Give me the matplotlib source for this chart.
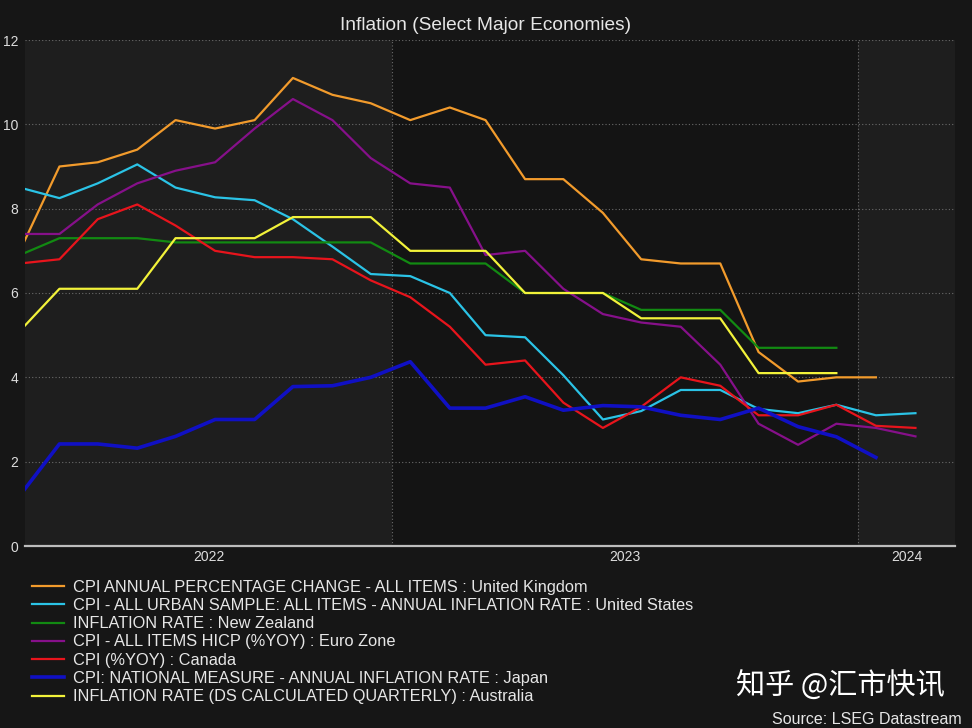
import matplotlib.pyplot as plt
import numpy as np
import pandas as pd

# --- Data (monthly, Mar 2022 onwards, plotted mid-month) ---
months = pd.date_range('2022-03-01', periods=24, freq='MS') + pd.Timedelta(days=14)

uk = [7.0, 9.0, 9.1, 9.4, 10.1, 9.9, 10.1, 11.1, 10.7, 10.5,
      10.1, 10.4, 10.1, 8.7, 8.7, 7.9, 6.8, 6.7, 6.7, 4.6, 3.9, 4.0, 4.0]
us = [8.5, 8.25, 8.6, 9.05, 8.5, 8.27, 8.2, 7.75, 7.1, 6.45,
      6.4, 6.0, 5.0, 4.95, 4.05, 3.0, 3.2, 3.7, 3.7, 3.25, 3.15, 3.35, 3.1, 3.15]
nz = [6.9, 7.3, 7.3, 7.3, 7.2, 7.2, 7.2, 7.2, 7.2, 7.2,
      6.7, 6.7, 6.7, 6.0, 6.0, 6.0, 5.6, 5.6, 5.6, 4.7, 4.7, 4.7]
euro = [7.4, 7.4, 8.1, 8.6, 8.9, 9.1, 9.9, 10.6, 10.1, 9.2,
        8.6, 8.5, 6.9, 7.0, 6.1, 5.5, 5.3, 5.2, 4.3, 2.9, 2.4, 2.9, 2.8, 2.6]
canada = [6.7, 6.8, 7.75, 8.1, 7.6, 7.0, 6.85, 6.85, 6.8, 6.3,
          5.9, 5.2, 4.3, 4.4, 3.4, 2.8, 3.3, 4.0, 3.8, 3.1, 3.1, 3.35, 2.85, 2.8]
japan = [1.2, 2.42, 2.42, 2.32, 2.6, 3.0, 3.0, 3.78, 3.8, 4.0,
         4.37, 3.27, 3.27, 3.54, 3.22, 3.33, 3.3, 3.1, 3.0, 3.27, 2.83, 2.59, 2.1]
australia = [5.1, 6.1, 6.1, 6.1, 7.3, 7.3, 7.3, 7.8, 7.8, 7.8,
             7.0, 7.0, 7.0, 6.0, 6.0, 6.0, 5.4, 5.4, 5.4, 4.1, 4.1, 4.1]

series = [
    ('CPI ANNUAL PERCENTAGE CHANGE - ALL ITEMS : United Kingdom', uk, '#f29b2c', 1.6),
    ('CPI - ALL URBAN SAMPLE: ALL ITEMS - ANNUAL INFLATION RATE : United States', us, '#2bc3e6', 1.6),
    ('INFLATION RATE : New Zealand', nz, '#128a12', 1.6),
    ('CPI - ALL ITEMS HICP (%YOY) : Euro Zone', euro, '#86108a', 1.6),
    ('CPI (%YOY) : Canada', canada, '#e8141c', 1.6),
    ('CPI: NATIONAL MEASURE - ANNUAL INFLATION RATE : Japan', japan, '#1010c4', 2.6),
    ('INFLATION RATE (DS CALCULATED QUARTERLY) : Australia', australia, '#f2f23a', 1.6),
]

x_start = pd.Timestamp('2022-03-19')
x_end = pd.Timestamp('2024-03-17')
years = [2022, 2023, 2024]
shade = ['#1e1e1e', '#141414', '#1e1e1e']
sans = ['Liberation Sans', 'DejaVu Sans']

fig = plt.figure(figsize=(9.72, 7.28), dpi=100, facecolor='#161616')
ax = fig.add_axes([25 / 972, 1 - 546 / 728, 930 / 972, 506 / 728])
ax.set_facecolor('#141414')

# alternating year bands
for yr, c in zip(years, shade):
    ax.axvspan(pd.Timestamp(f'{yr}-01-01'), pd.Timestamp(f'{yr + 1}-01-01'), color=c, lw=0, zorder=0)

for label, vals, color, lw in series:
    ax.plot(months[:len(vals)], vals, color=color, lw=lw, label=label, zorder=3)

ax.set_xlim(x_start, x_end)
ax.set_ylim(0, 12)
ax.set_yticks(np.arange(0, 13, 2))

# year boundaries as gridlines, labels centred in the visible part of each year
bounds = [pd.Timestamp(f'{yr}-01-01') for yr in (2023, 2024)]
ax.set_xticks(bounds)
ax.set_xticklabels([])
centres = []
for yr in years:
    a = max(x_start, pd.Timestamp(f'{yr}-01-01'))
    b = min(x_end, pd.Timestamp(f'{yr + 1}-01-01'))
    centres.append(a + (b - a) / 2)
ax.set_xticks(centres, minor=True)
ax.set_xticklabels([str(y) for y in years], minor=True)

ax.grid(True, which='major', color='#6a6a6a', ls=(0, (1, 2)), lw=0.8)
ax.tick_params(which='both', length=0, colors='#dddddd', labelsize=10)
ax.tick_params(axis='y', pad=5)
ax.tick_params(axis='x', which='minor', pad=3)
for t in ax.get_yticklabels() + ax.get_xticklabels(minor=True):
    t.set_family(sans)
for s in ['top', 'right', 'left']:
    ax.spines[s].set_visible(False)
ax.spines['bottom'].set_color('#bdbdbd')
ax.spines['bottom'].set_linewidth(1.6)
ax.set_axisbelow(True)

fig.text(0.5, 1 - 25 / 728, 'Inflation (Select Major Economies)', ha='center', va='center',
         color='#e6e6e6', fontsize=13.8, family=sans)

handles, labels = ax.get_legend_handles_labels()
leg = fig.legend(handles, labels, loc='upper left', bbox_to_anchor=(17 / 972, 1 - 565 / 728),
                 frameon=False, labelspacing=0.2, handlelength=2.0, handletextpad=0.55,
                 prop={'family': sans, 'size': 11.75})
for t in leg.get_texts():
    t.set_color('#e6e6e6')

fig.text(945 / 972, 1 - 687 / 728, '知乎 @汇市快讯', ha='right', va='center', color='white',
         fontsize=21, family=['Noto Sans CJK SC', 'DejaVu Sans'])
fig.text(962 / 972, 1 - 719 / 728, 'Source: LSEG Datastream', ha='right', va='center',
         color='#e6e6e6', fontsize=11.5, family=sans)

fig.savefig('out.png', dpi=100, facecolor=fig.get_facecolor())
